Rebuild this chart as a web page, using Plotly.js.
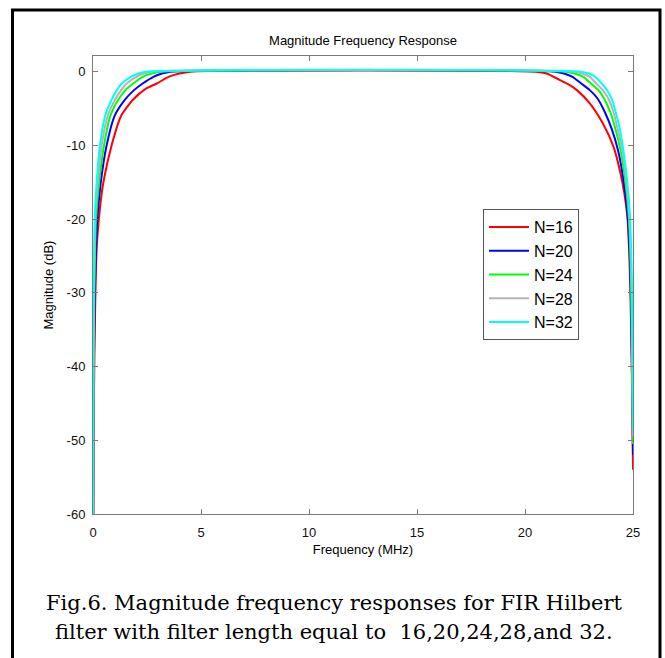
<!DOCTYPE html>
<html>
<head>
<meta charset="utf-8">
<script src="https://cdn.plot.ly/plotly-3.0.1.min.js"></script>
<style>
  html, body { margin: 0; padding: 0; background: #ffffff; }
  #chart { width: 665px; height: 658px; }
</style>
</head>
<body>
<div id="chart"></div>
<script>
// ---- data (frequency in MHz, magnitude in dB) ----
const seriesNames = ["N=16", "N=20", "N=24", "N=28", "N=32"];
const seriesColors = ["#ff0000", "#0000ff", "#00ff00", "#b4b4b4", "#00ffff"];

const freq16 = [0, 0.04, 0.1, 0.17, 0.27, 0.48, 0.86, 1.3, 1.85, 2.45, 2.95, 3.5, 4.0, 4.5,
                20.5, 21.0, 21.6, 22.0, 22.4, 23.0, 23.6, 24.1, 24.4, 24.6, 24.75, 24.83, 24.88, 24.93, 24.97, 25];
const mag16  = [-70, -45, -32, -24, -20, -15, -10, -6, -3.8, -2.3, -1.6, -0.7, -0.25, 0,
                0, -0.25, -1.1, -1.7, -2.5, -4.3, -7.0, -10.2, -13.5, -16.5, -20, -25, -30, -38, -46, -54];

const freq20 = [0, 0.03, 0.07, 0.2, 0.36, 0.63, 1.0, 1.48, 1.9, 2.3, 2.8, 3.2, 3.6,
                21.4, 21.8, 22.2, 22.6, 23.0, 23.35, 23.7, 24.03, 24.3, 24.55, 24.75, 24.85, 24.9, 24.95, 25];
const mag20  = [-70, -45, -32, -20, -15, -10, -6, -3.8, -2.5, -1.6, -0.7, -0.25, 0,
                0, -0.25, -0.7, -1.6, -2.5, -3.6, -5.5, -7.9, -10.6, -14.5, -19.5, -25, -30, -40, -52];

const freq24 = [0, 0.02, 0.05, 0.14, 0.28, 0.51, 0.8, 1.17, 1.5, 1.86, 2.3, 2.7, 3.1,
                21.9, 22.3, 22.7, 23.05, 23.4, 23.65, 23.95, 24.2, 24.42, 24.63, 24.8, 24.88, 24.92, 24.96, 25];
const mag24  = [-70, -45, -32, -20, -15, -10, -6, -3.8, -2.5, -1.6, -0.7, -0.25, 0,
                0, -0.25, -0.7, -1.6, -2.5, -3.6, -5.5, -7.9, -10.6, -14.5, -19.5, -25, -30, -40, -50.5];

const freq28 = [0, 0.015, 0.04, 0.1, 0.22, 0.4, 0.68, 1.02, 1.3, 1.56, 2.0, 2.35, 2.72,
                22.3, 22.65, 23.0, 23.3, 23.6, 23.85, 24.1, 24.3, 24.5, 24.68, 24.83, 24.9, 24.94, 24.97, 25];
const mag28  = [-70, -45, -32, -20, -15, -10, -6, -3.8, -2.5, -1.6, -0.7, -0.25, 0,
                0, -0.25, -0.7, -1.6, -2.5, -3.6, -5.5, -7.9, -10.6, -14.5, -19.5, -25, -30, -40, -49.5];

const freq32 = [0, 0.01, 0.03, 0.08, 0.17, 0.32, 0.56, 0.86, 1.1, 1.33, 1.75, 2.1, 2.41,
                22.6, 22.95, 23.25, 23.55, 23.8, 24.0, 24.2, 24.4, 24.55, 24.72, 24.86, 24.92, 24.95, 24.98, 25];
const mag32  = [-70, -45, -32, -20, -15, -10, -6, -3.8, -2.5, -1.6, -0.7, -0.25, 0,
                0, -0.25, -0.7, -1.6, -2.5, -3.6, -5.5, -7.9, -10.6, -14.5, -19.5, -25, -30, -40, -48.5];

const xTicks = [0, 5, 10, 15, 20, 25];
const yTicks = [0, -10, -20, -30, -40, -50, -60];

const titleText = "Magnitude Frequency Response";
const xLabel = "Frequency (MHz)";
const yLabel = "Magnitude (dB)";
const captionLine1 = "Fig.6. Magnitude frequency responses for FIR Hilbert";
const captionLine2 = "filter with filter length equal to  16,20,24,28,and 32.";

// ---- build traces ----
const freqs = [freq16, freq20, freq24, freq28, freq32];
const mags = [mag16, mag20, mag24, mag28, mag32];
const traces = seriesNames.map((name, i) => ({
  type: "scatter",
  mode: "lines",
  name: name,
  x: freqs[i],
  y: mags[i],
  line: { color: seriesColors[i], width: 2, shape: "spline", smoothing: 0.6 },
  hoverinfo: "skip"
}));

// plot area in pixels: left 93, right 633, top 56, bottom 514
const L = 93, R = 633, T = 56, B = 514;
const W = R - L, H = B - T;
const px = (p) => (p - L) / W;   // pixel x -> paper
const py = (p) => (B - p) / H;   // pixel y -> paper

const axisColor = "#7a7a7a";
const font = "Liberation Sans, Arial, sans-serif";

const layout = {
  width: 665,
  height: 658,
  margin: { l: L, r: 665 - R, t: T, b: 658 - B, pad: 0 },
  paper_bgcolor: "#ffffff",
  plot_bgcolor: "#ffffff",
  showlegend: true,
  title: {
    text: titleText,
    font: { family: font, size: 13, color: "#000000" },
    x: px(363), xanchor: "center", xref: "paper",
    y: 1 - 40 / 658, yanchor: "middle", yref: "container"
  },
  xaxis: {
    range: [0, 25],
    tickvals: xTicks,
    ticktext: xTicks.map(String),
    ticks: "inside",
    ticklen: 5,
    tickcolor: axisColor,
    showline: true,
    linecolor: axisColor,
    linewidth: 1,
    mirror: "ticks",
    showgrid: false,
    zeroline: false,
    tickfont: { family: font, size: 13, color: "#111111" },
    ticklabelstandoff: 6,
    title: { text: xLabel, font: { family: font, size: 13, color: "#000000" }, standoff: 6 }
  },
  yaxis: {
    range: [-60, 2.13],
    tickvals: yTicks,
    ticktext: yTicks.map(v => v === 0 ? "0" : "-" + Math.abs(v)),
    ticks: "inside",
    ticklen: 5,
    tickcolor: axisColor,
    showline: true,
    linecolor: axisColor,
    linewidth: 1,
    mirror: "ticks",
    showgrid: false,
    zeroline: false,
    tickfont: { family: font, size: 13, color: "#111111" },
    ticklabelstandoff: 4,
    title: { text: yLabel, font: { family: font, size: 13, color: "#000000" }, standoff: 10 }
  },
  legend: {
    x: px(483), y: py(209),
    xanchor: "left", yanchor: "top",
    bgcolor: "#ffffff",
    bordercolor: "#555555",
    borderwidth: 1,
    font: { family: font, size: 16, color: "#000000" },
    itemwidth: 40,
    tracegroupgap: 0
  },
  shapes: [
    {
      type: "rect", xref: "paper", yref: "paper",
      x0: px(12.5), x1: px(660), y0: py(661), y1: py(10),
      line: { color: "#000000", width: 3 },
      fillcolor: "rgba(0,0,0,0)",
      layer: "below"
    }
  ],
  annotations: [
    {
      xref: "paper", yref: "paper", x: px(334), y: py(603),
      xanchor: "center", yanchor: "middle", showarrow: false,
      text: captionLine1,
      font: { family: "DejaVu Serif, serif", size: 21, color: "#000000" }
    },
    {
      xref: "paper", yref: "paper", x: px(334), y: py(632),
      xanchor: "center", yanchor: "middle", showarrow: false,
      text: captionLine2,
      font: { family: "DejaVu Serif, serif", size: 21, color: "#000000" }
    }
  ]
};

Plotly.newPlot("chart", traces, layout, { staticPlot: true, displayModeBar: false });
</script>
</body>
</html>
